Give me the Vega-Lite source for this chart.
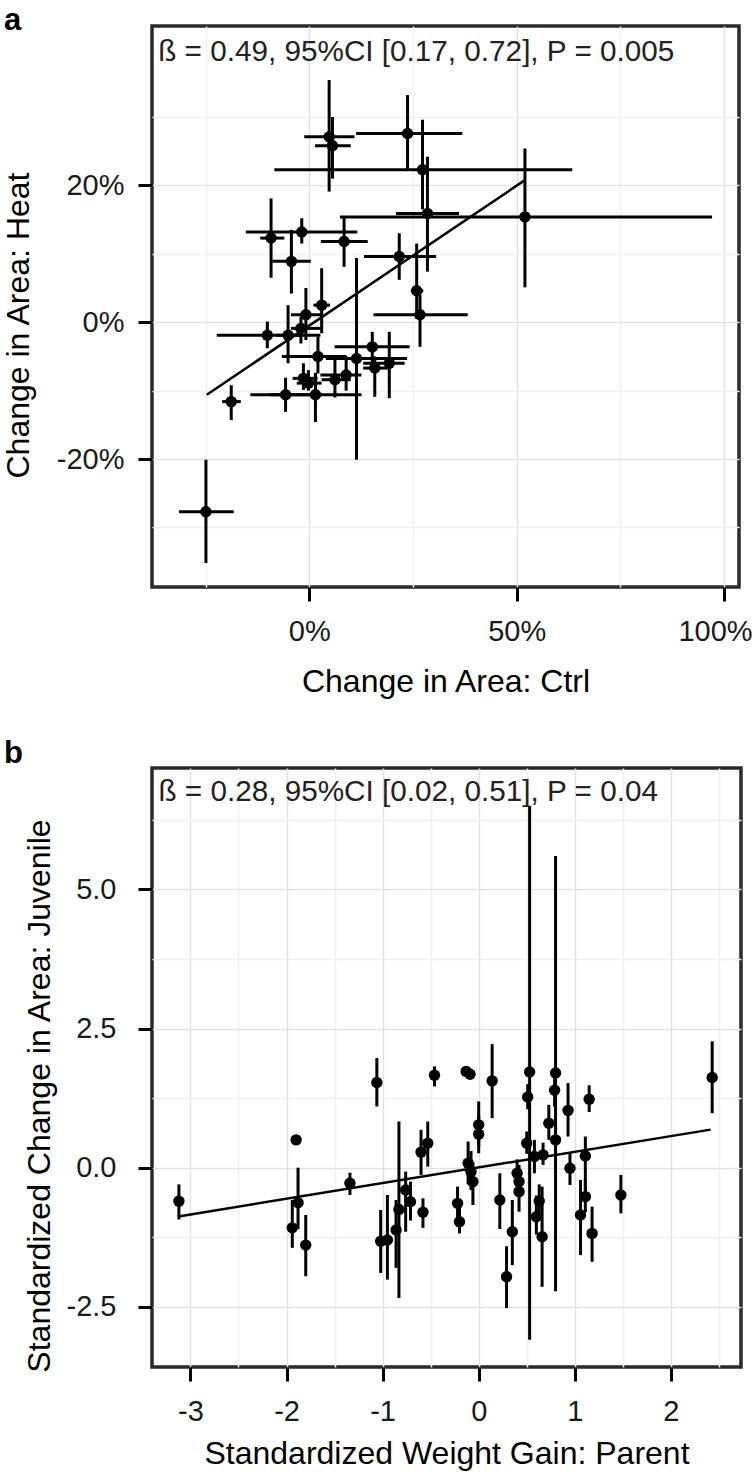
{
  "$schema": "https://vega.github.io/schema/vega-lite/v6.json",
  "autosize": {"type": "pad"},
  "padding": {"left": 0, "top": 3, "right": 0, "bottom": 0},
  "background": "white",
  "bounds": "flush",
  "spacing": 181,
  "config": {
    "view": {"stroke": "#2a2a2a", "strokeWidth": 3.5},
    "font": "Liberation Sans",
    "axis": {
      "domain": false,
      "grid": true,
      "gridWidth": 1.5,
      "tickColor": "black",
      "tickWidth": 3,
      "tickSize": 14,
      "labelFont": "Liberation Sans",
      "labelFontSize": 29,
      "labelColor": "#1a1a1a",
      "titleFont": "Liberation Sans",
      "titleFontSize": 32,
      "titleFontWeight": "normal",
      "titleColor": "black",
      "labelOverlap": false,
      "labelFlush": false,
      "labelBound": false
    }
  },
  "datasets": {
    "aPts": [
      {"x": 4.8, "y": 27.1, "xlo": -1.2, "xhi": 10.9, "ylo": 19.1, "yhi": 35.4},
      {"x": 5.6, "y": 25.8, "xlo": 1.4, "xhi": 10.0, "ylo": 21.0, "yhi": 30.0},
      {"x": 23.7, "y": 27.6, "xlo": 11.3, "xhi": 36.9, "ylo": 22.3, "yhi": 33.2},
      {"x": 27.3, "y": 22.3, "xlo": -8.4, "xhi": 63.4, "ylo": 16.5, "yhi": 29.6},
      {"x": 28.5, "y": 15.9, "xlo": 20.9, "xhi": 36.1, "ylo": 7.4, "yhi": 24.2},
      {"x": 52.0, "y": 15.4, "xlo": 7.4, "xhi": 97.1, "ylo": 5.1, "yhi": 25.4},
      {"x": 21.7, "y": 9.6, "xlo": 13.2, "xhi": 30.6, "ylo": 6.2, "yhi": 13.0},
      {"x": 25.9, "y": 4.6, "xlo": 24.5, "xhi": 27.5, "ylo": 0.5, "yhi": 11.5},
      {"x": 26.7, "y": 1.1, "xlo": 15.5, "xhi": 38.2, "ylo": -3.6, "yhi": 4.0},
      {"x": -9.2, "y": 12.3, "xlo": -11.8, "xhi": -6.0, "ylo": 6.5, "yhi": 18.1},
      {"x": -1.8, "y": 13.2, "xlo": -15.3, "xhi": 11.6, "ylo": 11.5, "yhi": 15.2},
      {"x": 8.4, "y": 11.8, "xlo": 2.8, "xhi": 14.1, "ylo": 8.1, "yhi": 15.5},
      {"x": -4.3, "y": 8.9, "xlo": -8.9, "xhi": 0.4, "ylo": 4.2, "yhi": 13.5},
      {"x": 3.0, "y": 2.5, "xlo": 1.0, "xhi": 5.0, "ylo": -1.6, "yhi": 7.9},
      {"x": -0.8, "y": 1.1, "xlo": -4.4, "xhi": 3.2, "ylo": -2.6, "yhi": 5.0},
      {"x": -10.1, "y": -1.9, "xlo": -22.3, "xhi": 2.7, "ylo": -3.8, "yhi": 0.1},
      {"x": -5.1, "y": -1.9, "xlo": -8.0, "xhi": -2.0, "ylo": -6.0, "yhi": 2.5},
      {"x": -2.0, "y": -0.9, "xlo": -4.4, "xhi": 2.8, "ylo": -3.1, "yhi": 0.8},
      {"x": 2.1, "y": -5.0, "xlo": -6.6, "xhi": 9.0, "ylo": -7.5, "yhi": -2.1},
      {"x": 11.4, "y": -5.3, "xlo": 4.0, "xhi": 23.6, "ylo": -20.1, "yhi": 9.4},
      {"x": 15.2, "y": -3.6, "xlo": 6.1, "xhi": 24.2, "ylo": -6.5, "yhi": -1.4},
      {"x": 15.8, "y": -6.7, "xlo": 13.0, "xhi": 19.0, "ylo": -10.9, "yhi": -5.0},
      {"x": 19.3, "y": -6.0, "xlo": 13.0, "xhi": 23.0, "ylo": -11.1, "yhi": -1.4},
      {"x": -1.4, "y": -8.2, "xlo": -4.0, "xhi": 2.0, "ylo": -9.9, "yhi": -6.0},
      {"x": -0.2, "y": -8.9, "xlo": -3.0, "xhi": 3.0, "ylo": -10.0, "yhi": -7.0},
      {"x": 6.2, "y": -8.4, "xlo": 3.0, "xhi": 10.0, "ylo": -11.0, "yhi": -5.5},
      {"x": 8.9, "y": -7.7, "xlo": 2.7, "xhi": 12.6, "ylo": -10.0, "yhi": -5.0},
      {"x": -5.7, "y": -10.6, "xlo": -14.2, "xhi": 3.0, "ylo": -13.1, "yhi": -8.1},
      {"x": 1.5, "y": -10.6, "xlo": -9.5, "xhi": 12.6, "ylo": -14.6, "yhi": -7.4},
      {"x": -18.8, "y": -11.6, "xlo": -21.0, "xhi": -16.5, "ylo": -14.3, "yhi": -9.2},
      {"x": -24.9, "y": -27.7, "xlo": -31.4, "xhi": -18.2, "ylo": -35.2, "yhi": -20.1}
    ],
    "aLine": [
      {"x": -24.7, "y": -10.6},
      {"x": 51.8, "y": 20.7}
    ],
    "aNote": [
      {"x": -36.4, "y": 38.25, "label": "ß = 0.49, 95%CI [0.17, 0.72], P = 0.005"}
    ],
    "bPts": [
      {"x": -3.12, "y": -0.60, "lo": -0.93, "hi": -0.30},
      {"x": -1.90, "y": 0.50, "lo": 0.42, "hi": 0.58},
      {"x": -1.94, "y": -1.08, "lo": -1.44, "hi": -0.58},
      {"x": -1.88, "y": -0.63, "lo": -1.10, "hi": 0.00},
      {"x": -1.80, "y": -1.39, "lo": -1.95, "hi": -0.85},
      {"x": -1.34, "y": -0.28, "lo": -0.49, "hi": -0.09},
      {"x": -1.06, "y": 1.53, "lo": 1.10, "hi": 1.97},
      {"x": -1.02, "y": -1.32, "lo": -1.89, "hi": -0.76},
      {"x": -0.95, "y": -1.30, "lo": -2.01, "hi": -0.49},
      {"x": -0.86, "y": -1.12, "lo": -1.80, "hi": -0.58},
      {"x": -0.83, "y": -0.75, "lo": -2.34, "hi": 0.83},
      {"x": -0.76, "y": -0.40, "lo": -1.15, "hi": -0.07},
      {"x": -0.71, "y": -0.61, "lo": -0.95, "hi": -0.25},
      {"x": -0.58, "y": -0.80, "lo": -1.08, "hi": -0.55},
      {"x": -0.60, "y": 0.28, "lo": -0.13, "hi": 0.68},
      {"x": -0.53, "y": 0.44, "lo": 0.02, "hi": 0.83},
      {"x": -0.46, "y": 1.66, "lo": 1.46, "hi": 1.82},
      {"x": -0.22, "y": -0.64, "lo": -1.06, "hi": -0.34},
      {"x": -0.20, "y": -0.97, "lo": -1.18, "hi": -0.58},
      {"x": -0.13, "y": 1.73, "lo": 1.65, "hi": 1.82},
      {"x": -0.09, "y": 1.68, "lo": 1.60, "hi": 1.75},
      {"x": -0.11, "y": 0.08, "lo": -0.30, "hi": 0.47},
      {"x": -0.08, "y": -0.07, "lo": -0.40, "hi": 0.30},
      {"x": -0.06, "y": -0.25, "lo": -0.67, "hi": 0.10},
      {"x": 0.00, "y": 0.77, "lo": 0.38, "hi": 1.19},
      {"x": 0.00, "y": 0.60, "lo": 0.26, "hi": 0.95},
      {"x": 0.14, "y": 1.56, "lo": 0.89, "hi": 2.22},
      {"x": 0.22, "y": -0.58, "lo": -1.10, "hi": -0.10},
      {"x": 0.29, "y": -1.96, "lo": -2.52, "hi": -1.41},
      {"x": 0.35, "y": -1.15, "lo": -1.75, "hi": -0.58},
      {"x": 0.40, "y": -0.10, "lo": -0.35, "hi": 0.15},
      {"x": 0.42, "y": -0.25, "lo": -0.50, "hi": 0.05},
      {"x": 0.42, "y": -0.43, "lo": -0.79, "hi": -0.20},
      {"x": 0.53, "y": 1.72, "lo": -3.09, "hi": 6.50},
      {"x": 0.51, "y": 1.27, "lo": 1.05, "hi": 1.50},
      {"x": 0.50, "y": 0.44, "lo": 0.25, "hi": 0.65},
      {"x": 0.58, "y": 0.20, "lo": -0.10, "hi": 0.50},
      {"x": 0.60, "y": -0.88, "lo": -1.20, "hi": -0.50},
      {"x": 0.63, "y": -0.60, "lo": -0.90, "hi": -0.30},
      {"x": 0.66, "y": -1.24, "lo": -2.14, "hi": -0.34},
      {"x": 0.67, "y": 0.23, "lo": 0.05, "hi": 0.45},
      {"x": 0.80, "y": 1.70, "lo": -2.22, "hi": 5.60},
      {"x": 0.79, "y": 1.39, "lo": 1.10, "hi": 1.65},
      {"x": 0.73, "y": 0.80, "lo": 0.50, "hi": 1.13},
      {"x": 0.80, "y": 0.50, "lo": 0.25, "hi": 0.75},
      {"x": 0.93, "y": 1.03, "lo": 0.56, "hi": 1.52},
      {"x": 0.95, "y": -0.01, "lo": -0.31, "hi": 0.26},
      {"x": 1.15, "y": 1.23, "lo": 1.00, "hi": 1.48},
      {"x": 1.11, "y": 0.21, "lo": -0.40, "hi": 0.56},
      {"x": 1.11, "y": -0.52, "lo": -0.80, "hi": -0.22},
      {"x": 1.06, "y": -0.85, "lo": -1.57, "hi": -0.22},
      {"x": 1.18, "y": -1.18, "lo": -1.69, "hi": -0.70},
      {"x": 1.48, "y": -0.49, "lo": -0.82, "hi": -0.13},
      {"x": 2.43, "y": 1.62, "lo": 0.98, "hi": 2.27}
    ],
    "bLine": [
      {"x": -3.125, "y": -0.875},
      {"x": 2.414, "y": 0.684}
    ],
    "bNote": [
      {"x": -3.333, "y": 6.59, "label": "ß = 0.28, 95%CI [0.02, 0.51], P = 0.04"}
    ]
  },
  "vconcat": [
    {
      "width": 587,
      "height": 561,
      "title": {"text": "a", "anchor": "start", "frame": "group", "dx": -148, "offset": -35, "baseline": "alphabetic", "fontSize": 31, "fontWeight": "bold", "font": "Liberation Sans", "color": "black"},
      "layer": [
        {
          "data": {"name": "aPts"},
          "mark": {"type": "rule", "strokeWidth": 3, "color": "black"},
          "encoding": {
            "x": {
              "field": "xlo", "type": "quantitative", "title": "Change in Area: Ctrl",
              "scale": {"domain": [-37.9, 103.6], "nice": false, "zero": false},
              "axis": {
                "values": [-25, 0, 25, 50, 75, 100],
                "labelExpr": "datum.value % 50 === 0 ? datum.value + '%' : ''",
                "gridColor": {"condition": {"test": "datum.value % 50 === 0", "value": "#e2e2e2"}, "value": "#f0f0f0"},
                "tickOpacity": {"condition": {"test": "datum.value % 50 === 0", "value": 1}, "value": 0},
                "labelOffset": {"condition": {"test": "datum.value === 100", "value": -9}, "value": 0},
                "labelPadding": 16,
                "titleY": 79
              }
            },
            "x2": {"field": "xhi"},
            "y": {
              "field": "y", "type": "quantitative", "title": "Change in Area: Heat",
              "scale": {"domain": [-38.7, 43.3], "nice": false, "zero": false},
              "axis": {
                "values": [-30, -20, -10, 0, 10, 20, 30],
                "labelExpr": "datum.value % 20 === 0 ? datum.value + '%' : ''",
                "gridColor": {"condition": {"test": "datum.value % 20 === 0", "value": "#e2e2e2"}, "value": "#f0f0f0"},
                "tickOpacity": {"condition": {"test": "datum.value % 20 === 0", "value": 1}, "value": 0},
                "labelPadding": 14,
                "titleX": -117,
                "titleY": 299
              }
            }
          }
        },
        {
          "data": {"name": "aPts"},
          "mark": {"type": "rule", "strokeWidth": 3, "color": "black"},
          "encoding": {
            "x": {"field": "x", "type": "quantitative", "title": "Change in Area: Ctrl"},
            "y": {"field": "ylo", "type": "quantitative", "title": "Change in Area: Heat"},
            "y2": {"field": "yhi"}
          }
        },
        {
          "data": {"name": "aLine"},
          "mark": {"type": "line", "strokeWidth": 2.5, "color": "black"},
          "encoding": {
            "x": {"field": "x", "type": "quantitative", "title": "Change in Area: Ctrl"},
            "y": {"field": "y", "type": "quantitative", "title": "Change in Area: Heat"}
          }
        },
        {
          "data": {"name": "aPts"},
          "mark": {"type": "circle", "size": 130, "color": "black", "opacity": 1},
          "encoding": {
            "x": {"field": "x", "type": "quantitative", "title": "Change in Area: Ctrl"},
            "y": {"field": "y", "type": "quantitative", "title": "Change in Area: Heat"}
          }
        },
        {
          "data": {"name": "aNote"},
          "mark": {"type": "text", "align": "left", "baseline": "alphabetic", "fontSize": 29.7, "font": "Liberation Sans", "color": "#222222"},
          "encoding": {
            "x": {"field": "x", "type": "quantitative", "title": "Change in Area: Ctrl"},
            "y": {"field": "y", "type": "quantitative", "title": "Change in Area: Heat"},
            "text": {"field": "label"}
          }
        }
      ]
    },
    {
      "width": 589,
      "height": 599,
      "title": {"text": "b", "anchor": "start", "frame": "group", "dx": -148, "offset": -26, "baseline": "alphabetic", "fontSize": 31, "fontWeight": "bold", "font": "Liberation Sans", "color": "black"},
      "layer": [
        {
          "data": {"name": "bPts"},
          "mark": {"type": "rule", "strokeWidth": 3, "color": "black"},
          "encoding": {
            "x": {
              "field": "x", "type": "quantitative", "title": "Standardized Weight Gain: Parent",
              "scale": {"domain": [-3.4, 2.73], "nice": false, "zero": false},
              "axis": {
                "values": [-3, -2.5, -2, -1.5, -1, -0.5, 0, 0.5, 1, 1.5, 2, 2.5],
                "labelExpr": "datum.value % 1 === 0 ? datum.value + '' : ''",
                "gridColor": {"condition": {"test": "datum.value % 1 === 0", "value": "#e2e2e2"}, "value": "#f0f0f0"},
                "tickOpacity": {"condition": {"test": "datum.value % 1 === 0", "value": 1}, "value": 0},
                "labelPadding": 16,
                "titleY": 71
              }
            },
            "y": {
              "field": "lo", "type": "quantitative", "title": "Standardized Change in Area: Juvenile",
              "scale": {"domain": [-3.58, 7.18], "nice": false, "zero": false},
              "axis": {
                "values": [-2.5, -1.25, 0, 1.25, 2.5, 3.75, 5, 6.25],
                "labelExpr": "datum.value % 2.5 === 0 ? (datum.value < 0 ? '-' + format(-datum.value, '.1f') : format(datum.value, '.1f')) : ''",
                "gridColor": {"condition": {"test": "datum.value % 2.5 === 0", "value": "#e2e2e2"}, "value": "#f0f0f0"},
                "tickOpacity": {"condition": {"test": "datum.value % 2.5 === 0", "value": 1}, "value": 0},
                "labelPadding": 22,
                "titleX": -95.5,
                "titleY": 327.5
              }
            },
            "y2": {"field": "hi"}
          }
        },
        {
          "data": {"name": "bLine"},
          "mark": {"type": "line", "strokeWidth": 2.5, "color": "black"},
          "encoding": {
            "x": {"field": "x", "type": "quantitative", "title": "Standardized Weight Gain: Parent"},
            "y": {"field": "y", "type": "quantitative", "title": "Standardized Change in Area: Juvenile"}
          }
        },
        {
          "data": {"name": "bPts"},
          "mark": {"type": "circle", "size": 130, "color": "black", "opacity": 1},
          "encoding": {
            "x": {"field": "x", "type": "quantitative", "title": "Standardized Weight Gain: Parent"},
            "y": {"field": "y", "type": "quantitative", "title": "Standardized Change in Area: Juvenile"}
          }
        },
        {
          "data": {"name": "bNote"},
          "mark": {"type": "text", "align": "left", "baseline": "alphabetic", "fontSize": 29.7, "font": "Liberation Sans", "color": "#222222"},
          "encoding": {
            "x": {"field": "x", "type": "quantitative", "title": "Standardized Weight Gain: Parent"},
            "y": {"field": "y", "type": "quantitative", "title": "Standardized Change in Area: Juvenile"},
            "text": {"field": "label"}
          }
        }
      ]
    }
  ]
}
